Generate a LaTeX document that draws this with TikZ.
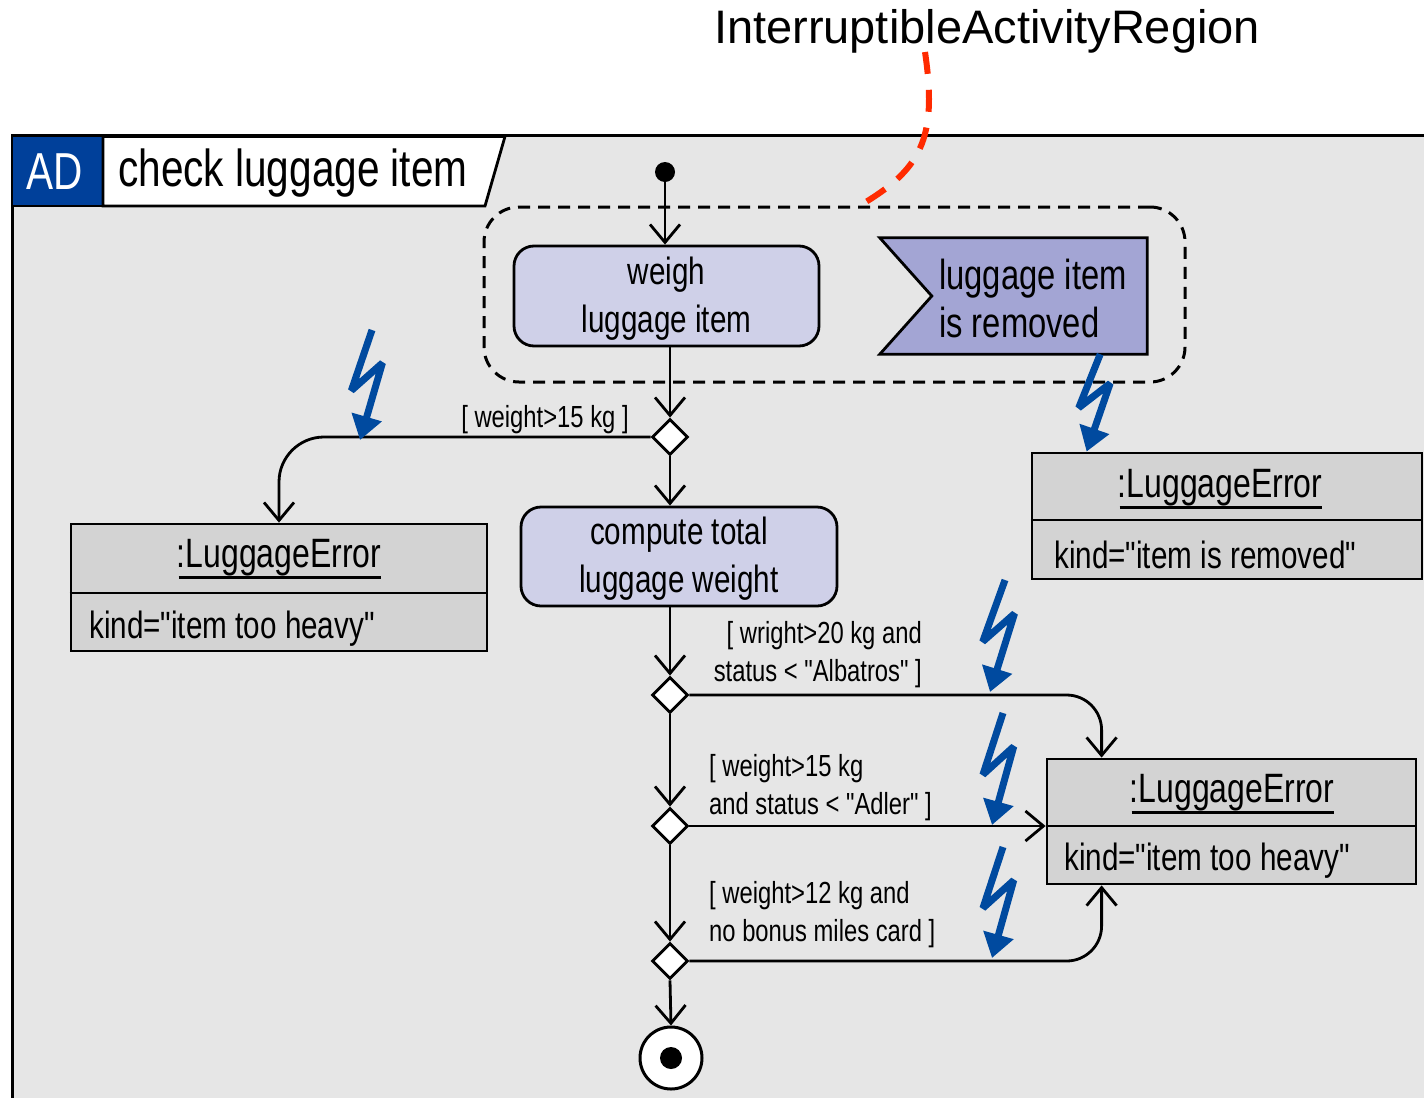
\documentclass[tikz,border=0pt]{standalone}
\usepackage{fontspec}
\setmainfont{Liberation Sans}
\newfontfamily\narrowf[FakeStretch=0.78]{Liberation Sans}
\newfontfamily\wideff{Liberation Sans}
\usetikzlibrary{arrows.meta,shapes.geometric,calc}
\definecolor{bgray}{HTML}{E6E6E6}
\definecolor{boxgray}{HTML}{D3D3D3}
\definecolor{actfill}{HTML}{CFD0E8}
\definecolor{accfill}{HTML}{A3A5D4}
\definecolor{adblue}{HTML}{00409A}
\definecolor{zblue}{HTML}{004A9F}
\definecolor{redline}{HTML}{FF2A00}
\newcommand\zapbolt[2]{\draw[zap] (#1) -- ($(#1)!0.55!(#2)+(-14,0)$) -- ($(#1)!0.3!(#2)+(14,0)$) -- (#2);}
\begin{document}
\begin{tikzpicture}[x=1pt,y=-1pt,
 flow/.style={line width=2.8pt, -{Straight Barb[length=18pt,width=30pt]}},
 act/.style={draw, line width=2.8pt, rounded corners=20pt, fill=actfill},
 acttext/.style={align=center, inner sep=0pt, font=\narrowf\fontsize{38}{48}\selectfont},
 dec/.style={diamond, draw, fill=white, line width=2.8pt, minimum width=36pt, minimum height=36pt, inner sep=0pt},
 errbox/.style={draw, line width=2.8pt, fill=boxgray, inner sep=0pt},
 ename/.style={font=\narrowf\fontsize{41}{46}\selectfont, inner sep=0pt},
 eattr/.style={font=\narrowf\fontsize{38}{44}\selectfont, inner sep=0pt, anchor=west},
 guard/.style={font=\narrowf\fontsize{30.5}{38}\selectfont, inner sep=0pt},
 zap/.style={draw=zblue, line width=7pt, line join=miter, miter limit=3, -{Triangle[length=24pt,width=30pt]}},
 region/.style={draw, line width=3pt, dash pattern=on 12pt off 8pt, rounded corners=35pt},
 uline/.style={line width=2.5pt},
]
\useasboundingbox (0,0) rectangle (1424,1098);
\fill[white] (0,0) rectangle (1424,1098);
% frame
\fill[bgray] (12,135) rectangle (1424,1098);
\draw[line width=3pt] (1424,135) -- (12,135) -- (12,1098);
% header
\fill[adblue] (13,137) rectangle (103,206);
\filldraw[fill=white, line width=2.8pt] (103,136.5) -- (505,136.5) -- (485,206) -- (103,206) -- cycle;
\draw[line width=2.8pt] (12,206) -- (103,206);
\node[font=\narrowf\fontsize{52}{58}\selectfont, text=white, inner sep=0pt] (ad) at (55,172) {AD};
\node[font=\narrowf\fontsize{52}{58}\selectfont, anchor=west, inner sep=0pt] (ttl) at (118,173) {check luggage item};
% title above
\node[font=\wideff\fontsize{47}{56}\selectfont, inner sep=0pt] (iar) at (987,31) {InterruptibleActivityRegion};
% interruptible region
\node[region, minimum width=701pt, minimum height=175pt] (irr) at (834.5,294.5) {};
% nodes
\node[circle, fill=black, minimum size=20pt, inner sep=0pt] (ini) at (665,172) {};
\node[act, minimum width=305pt, minimum height=100pt] (weigh) at (666.5,296) {};
\node[acttext] (weight) at (666.5,299) {weigh\\luggage item};
\node[minimum width=267pt, minimum height=116pt, inner sep=0pt] (acc) at (1013.5,296) {};
\filldraw[fill=accfill, line width=2.8pt] (acc.north west) -- (acc.north east) -- (acc.south east) -- (acc.south west) -- ($(acc.west)+(52,0)$) -- cycle;
\node[font=\narrowf\fontsize{42}{48}\selectfont, align=left, anchor=west, inner sep=0pt] (acct) at (939,298) {luggage item\\is removed};
\node[act, minimum width=316pt, minimum height=99pt] (comp) at (679,556.5) {};
\node[acttext] (compt) at (679,559) {compute total\\luggage weight};
\node[dec] (d1) at (670,437) {};
\node[dec] (d2) at (670,695) {};
\node[dec] (d3) at (670,826) {};
\node[dec] (d4) at (670,961) {};
\node[circle, draw, fill=white, line width=3pt, minimum size=62pt, inner sep=0pt] (fin) at (671,1058) {};
\fill (fin.center) circle (11);
% error objects
\node[errbox, minimum width=416pt, minimum height=127pt] (e1) at (279,587.5) {};
\draw[line width=2.8pt] (e1.west |- 0,593) -- (e1.east |- 0,593);
\node[ename] (e1n) at (279,558) {:LuggageError};
\draw[uline] ($(e1n.south west)+(2,1)$) -- ($(e1n.south east)+(0,1)$);
\node[eattr] (e1a) at (89,629) {kind="item too heavy"};
\node[errbox, minimum width=390pt, minimum height=126pt] (e2) at (1227,516) {};
\draw[line width=2.8pt] (e2.west |- 0,520) -- (e2.east |- 0,520);
\node[ename] (e2n) at (1220,488) {:LuggageError};
\draw[uline] ($(e2n.south west)+(2,1)$) -- ($(e2n.south east)+(0,1)$);
\node[eattr] (e2a) at (1054,555) {kind="item is removed"};
\node[errbox, minimum width=369pt, minimum height=125pt] (e3) at (1231.5,821.5) {};
\draw[line width=2.8pt] (e3.west |- 0,826) -- (e3.east |- 0,826);
\node[ename] (e3n) at (1232,793) {:LuggageError};
\draw[uline] ($(e3n.south west)+(2,1)$) -- ($(e3n.south east)+(0,1)$);
\node[eattr] (e3a) at (1064,861) {kind="item too heavy"};
% flows
\draw[flow] (ini) -- (ini |- weigh.north);
\draw[flow] (d1 |- weigh.south) -- (d1.north);
\draw[flow, rounded corners=45pt] (d1.west) -| (e1.north);
\draw[flow] (d1.south) -- (d1.south |- comp.north);
\draw[flow] (d1 |- comp.south) -- (d2.north);
\draw[flow] (d2.south) -- (d3.north);
\draw[flow] (d3.south) -- (d4.north);
\draw[flow] (d4.south) -- (fin.north);
\coordinate (e3top) at ($(e3.north west)+(56,0)$);
\coordinate (e3bot) at ($(e3.south west)+(56,0)$);
\draw[flow, rounded corners=35pt] (d2.east) -| (e3top);
\draw[flow] (d3.east) -- (d3.east -| e3.west);
\draw[flow, rounded corners=35pt] (d4.east) -| (e3bot);
% guards
\node[guard] (g1) at (545,420) {[ weight>15 kg ]};
\node[guard, align=right, anchor=east] (g2) at (922,655) {[ wright>20 kg and\\status < "Albatros" ]};
\node[guard, align=left, anchor=west] (g3) at (709,788) {[ weight>15 kg\\and status < "Adler" ]};
\node[guard, align=left, anchor=west] (g4) at (709,915) {[ weight>12 kg and\\no bonus miles card ]};
% lightning bolts
\coordinate (z0t) at ($(acc.south east)+(-47,0)$);
\coordinate (z0p) at ($(e2.north west)+(56,0)$);
\zapbolt{z0t}{z0p}
\coordinate (z1t) at (372,330);
\coordinate (z1p) at (360,440);
\zapbolt{z1t}{z1p}
\coordinate (z2t) at (1005,580);
\coordinate (z2p) at (990,692);
\zapbolt{z2t}{z2p}
\coordinate (z3t) at (1003,713);
\coordinate (z3p) at (992,825);
\zapbolt{z3t}{z3p}
\coordinate (z4t) at (1003,847);
\coordinate (z4p) at (992,958);
\zapbolt{z4t}{z4p}
% red dashed pointer
\coordinate (rs) at (925,52);
\draw[redline, line width=6pt, dash pattern=on 22pt off 16pt] (rs) .. controls (938,140) and (920,170) .. (irr.north -| 860,0);
\end{tikzpicture}
\end{document}
